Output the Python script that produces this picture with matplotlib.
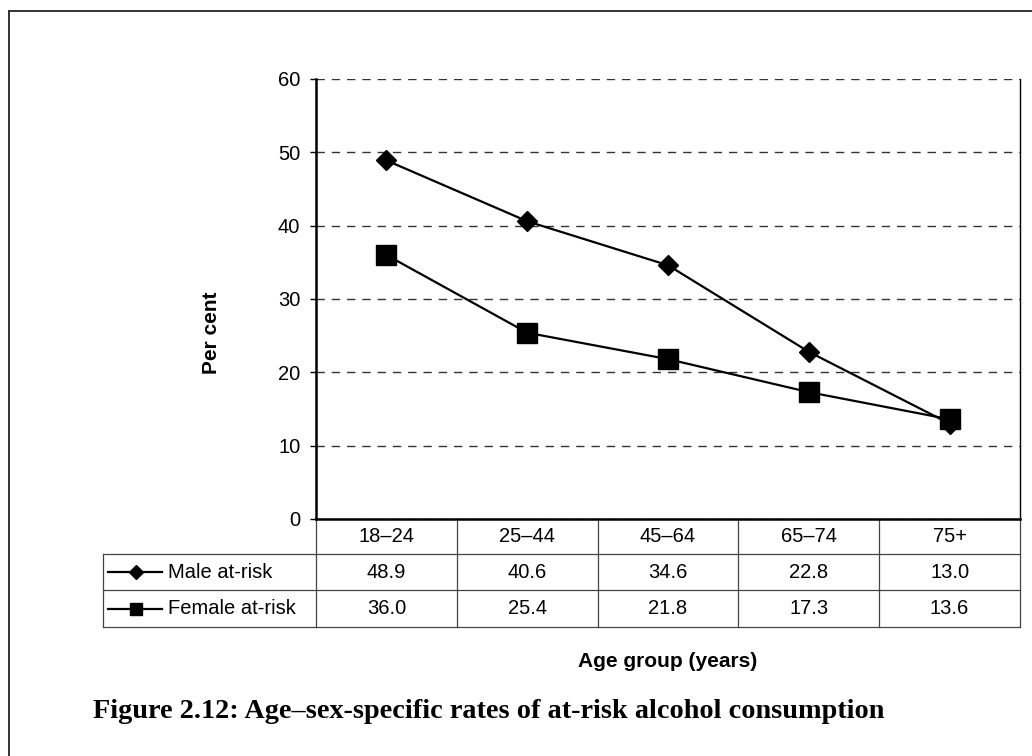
import numpy as np
import matplotlib
matplotlib.use("Agg")
import matplotlib.pyplot as plt
from matplotlib.lines import Line2D

# data
ages = ["18\u201324", "25\u201344", "45\u201364", "65\u201374", "75+"]
male = [48.9, 40.6, 34.6, 22.8, 13.0]
female = [36.0, 25.4, 21.8, 17.3, 13.6]
series_names = ["Male at-risk", "Female at-risk"]
series_markers = ["D", "s"]

W, H = 1032, 756
fs = 14.5
plt.rcParams['font.family'] = ['Liberation Sans', 'DejaVu Sans']

fig = plt.figure(figsize=(W / 100, H / 100), dpi=100)

# outer frame (cut at right/bottom edge)
fig.add_artist(Line2D([9 / W, 9 / W], [1 - 11 / H, -0.1], color='#333333', lw=1.4,
                      transform=fig.transFigure))
fig.add_artist(Line2D([9 / W, 1.1], [1 - 11 / H, 1 - 11 / H], color='#333333', lw=1.4,
                      transform=fig.transFigure))

ax = fig.add_axes([316 / W, 1 - 519 / H, 704 / W, 440 / H])
x = np.arange(len(ages))
ax.set_xlim(-0.5, len(ages) - 0.5)
ax.set_ylim(0, 60)
ax.set_yticks(np.arange(0, 61, 10))
ax.set_xticks([])
ax.yaxis.grid(True, color='#333333', lw=1.0, dashes=(6, 5))
ax.set_axisbelow(True)
ax.spines['top'].set_visible(False)
ax.spines['right'].set_linewidth(1.0)
ax.spines['left'].set_linewidth(1.8)
ax.spines['bottom'].set_linewidth(1.8)
ax.tick_params(axis='y', direction='out', length=4.3, width=1, pad=7, labelsize=fs)

ax.plot(x, male, color='black', lw=1.6, marker='D', ms=10.5, zorder=3, clip_on=False)
ax.plot(x, female, color='black', lw=1.6, marker='s', ms=14, zorder=4, clip_on=False)

ax.set_ylabel("Per cent", fontsize=15, fontweight='bold', labelpad=0)
ax.yaxis.set_label_coords((221 - 316) / 704, (519 - 333) / 440)

# data table under the plot
tr = ax.transAxes
n = len(ages)
lab_left = (103 - 316) / 704
rows = [0, -35 / 440, -71 / 440, -108 / 440]
lc = '#444444'
for yb in rows[1:]:
    ax.plot([lab_left, 1], [yb, yb], color=lc, lw=0.9, transform=tr, clip_on=False)
for i in range(n + 1):
    ax.plot([i / n, i / n], [0, rows[3]], color=lc, lw=0.9, transform=tr, clip_on=False)
ax.plot([lab_left, lab_left], [rows[1], rows[3]], color=lc, lw=0.9, transform=tr, clip_on=False)

for i, a in enumerate(ages):
    ax.text((i + 0.5) / n, (rows[0] + rows[1]) / 2, a, transform=tr, ha='center',
            va='center', fontsize=fs)
for r, vals in enumerate([male, female]):
    ym = (rows[r + 1] + rows[r + 2]) / 2
    for i, v in enumerate(vals):
        ax.text((i + 0.5) / n, ym, f"{v:.1f}", transform=tr, ha='center',
                va='center', fontsize=fs)
    ax.plot([(108 - 316) / 704, (162 - 316) / 704], [ym, ym], color='black', lw=1.6,
            transform=tr, clip_on=False)
    ax.plot([(136 - 316) / 704], [ym], color='black', marker=series_markers[r],
            ms=7.5 if r == 0 else 9, transform=tr, clip_on=False)
    ax.text((168 - 316) / 704, ym, series_names[r], transform=tr, ha='left',
            va='center', fontsize=fs)

fig.text(668 / W, 1 - 667 / H, "Age group (years)", ha='center', va='baseline',
         fontsize=15, fontweight='bold')
fig.text(93 / W, 1 - 718 / H,
         "Figure 2.12: Age\u2013sex-specific rates of at-risk alcohol consumption",
         ha='left', va='baseline', fontsize=20.3, fontweight='bold',
         family=['Liberation Serif', 'DejaVu Serif'])

fig.savefig("out.png", dpi=100)
